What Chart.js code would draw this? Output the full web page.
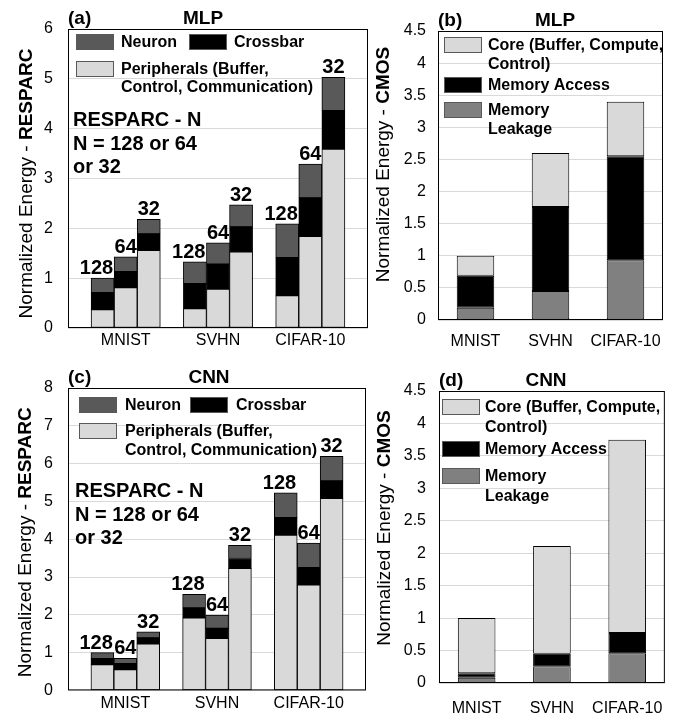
<!DOCTYPE html>
<html>
<head>
<title>RESPARC vs CMOS energy</title>
<style type="text/css">
	body{ margin:0; background:#fff; }
	#wrap{ position:relative; width:681px; height:715px; }
	#wrap canvas{ position:absolute; left:0; top:0; }
</style>
</head>
<body>
<script type="text/javascript" src="https://cdn.jsdelivr.net/npm/chart.js@4/dist/chart.umd.min.js"></script>

<div id="wrap">
	<canvas id="chartA" width="681" height="715"></canvas>
	<canvas id="chartB" width="681" height="715"></canvas>
	<canvas id="chartC" width="681" height="715"></canvas>
	<canvas id="chartD" width="681" height="715"></canvas>
</div>

<script type="text/javascript">
var FONT = "'Liberation Sans', Arial, Helvetica, sans-serif";

var datasetNames = ['MNIST', 'SVHN', 'CIFAR-10'];
var sizeLabels = ['128', '64', '32'];

// RESPARC, per dataset: N = 128, 64, 32 (segment heights, stacked)
var mlpPeripherals = [0.37, 0.81, 1.56, 0.39, 0.78, 1.53, 0.65, 1.84, 3.59];
var mlpCrossbar    = [0.34, 0.32, 0.33, 0.50, 0.50, 0.50, 0.76, 0.77, 0.77];
var mlpNeuron      = [0.29, 0.30, 0.29, 0.44, 0.43, 0.44, 0.68, 0.68, 0.67];

var cnnPeripherals = [0.68, 0.55, 1.23, 1.92, 1.38, 3.23, 4.11, 2.79, 5.08];
var cnnCrossbar    = [0.16, 0.16, 0.16, 0.26, 0.26, 0.26, 0.46, 0.46, 0.46];
var cnnNeuron      = [0.16, 0.14, 0.16, 0.36, 0.35, 0.35, 0.66, 0.65, 0.65];

// CMOS baseline, per dataset
var mlpLeakage = [0.19, 0.45, 0.93];
var mlpAccess  = [0.50, 1.31, 1.62];
var mlpCore    = [0.31, 0.84, 0.85];

var cnnLeakage = [0.08, 0.26, 0.46];
var cnnAccess  = [0.07, 0.19, 0.31];
var cnnCore    = [0.85, 1.66, 2.98];

var respMlpMax = 6, respCnnMax = 8, cmosMax = 4.5;

var NEURON = '#595959', CROSSBAR = '#000000', PERIPH = '#d9d9d9';
var LEAK = '#808080', ACCESS = '#000000', CORE = '#d9d9d9';

// 13 slots: gap, 3 bars, gap, 3 bars, gap, 3 bars, gap
function slots(vals){
	var out = [null];
	for (var g = 0; g < 3; g++){
		for (var k = 0; k < 3; k++) out.push(vals[g*3 + k]);
		out.push(null);
	}
	return out;
}
var slotCats = slots(['', datasetNames[0], '', '', datasetNames[1], '', '', datasetNames[2], '']).map(function(v){ return v || ''; });
var slotSizes = slots(sizeLabels.concat(sizeLabels, sizeLabels)).map(function(v){ return v || ''; });

function ds(label, data, color){
	return { label: label, data: data, backgroundColor: color, borderColor: '#000', borderWidth: 1, borderSkipped: false };
}

function makeDecor(p){
	return {
		id: 'decor',
		afterDatasetsDraw: function(chart){
			var ctx = chart.ctx, a = chart.chartArea;
			ctx.save();
			ctx.strokeStyle = '#000';
			ctx.lineWidth = 1;
			ctx.strokeRect(a.left + 0.5, a.top + 0.5, a.right - a.left - 1, a.bottom - a.top - 1);

			ctx.fillStyle = '#000';
			ctx.textBaseline = 'alphabetic';
			ctx.font = 'bold 19px ' + FONT;
			ctx.textAlign = 'left';
			ctx.fillText(p.tag, a.left, a.top - 5);
			ctx.textAlign = 'center';
			ctx.fillText(p.title, a.left + p.titleX, a.top - 5);

			// y title, regular + bold part
			ctx.save();
			ctx.translate(a.left + p.yTitleX, (a.top + a.bottom)/2 + p.yTitleDy);
			ctx.rotate(-Math.PI/2);
			ctx.textBaseline = 'middle';
			ctx.textAlign = 'left';
			ctx.font = '19px ' + FONT;
			var w1 = ctx.measureText(p.yTitle[0]).width;
			ctx.font = 'bold 19px ' + FONT;
			var w2 = ctx.measureText(p.yTitle[1]).width;
			var x0 = -(w1 + w2)/2;
			ctx.font = '19px ' + FONT;
			ctx.fillText(p.yTitle[0], x0, 0);
			ctx.font = 'bold 19px ' + FONT;
			ctx.fillText(p.yTitle[1], x0 + w1, 0);
			ctx.restore();

			// legend inside the plot
			ctx.textAlign = 'left';
			ctx.font = 'bold 16px ' + FONT;
			p.legend.forEach(function(it){
				var x = a.left + it.x, y = a.top + it.y;
				ctx.fillStyle = it.color;
				ctx.fillRect(x, y, 38, 16);
				ctx.strokeStyle = '#595959';
				ctx.strokeRect(x + 0.5, y + 0.5, 37, 15);
				ctx.fillStyle = '#000';
				it.lines.forEach(function(t, i){
					ctx.fillText(t, x + p.legendDx, y + 13 + i*p.legendGap);
				});
			});

			if (p.note){
				ctx.font = 'bold 20px ' + FONT;
				p.note.forEach(function(t, i){
					ctx.fillText(t, a.left + p.noteX, a.top + p.noteY + i*23.5);
				});
			}

			if (p.barLabels){
				var meta = chart.getDatasetMeta(chart.data.datasets.length - 1);
				ctx.font = 'bold 20px ' + FONT;
				meta.data.forEach(function(bar, i){
					var t = p.barLabels[i];
					if (!t) return;
					var w = ctx.measureText(t).width;
					if (w > bar.width){
						ctx.textAlign = 'right';
						ctx.fillText(t, bar.x + bar.width/2 - 1, bar.y - 4);
					} else {
						ctx.textAlign = 'center';
						ctx.fillText(t, bar.x, bar.y - 4);
					}
				});
			}
			ctx.restore();
		}
	};
}

function makePanel(id, p){
	var a = p.area;
	var xAxisH = 715 - a[3];
	return new Chart(document.getElementById(id), {
		type: 'bar',
		data: { labels: p.labels, datasets: p.datasets },
		options: {
			responsive: false,
			animation: false,
			barPercentage: p.barPct,
			categoryPercentage: 1,
			layout: { padding: { left: a[0] - 44, top: a[1], right: 681 - a[2], bottom: 0 } },
			plugins: { legend: { display: false }, tooltip: { enabled: false } },
			scales: {
				x: {
					stacked: true,
					grid: { display: false, drawTicks: false },
					border: { display: false },
					ticks: { autoSkip: false, maxRotation: 0, padding: p.xPad, color: '#000', font: { family: FONT, size: 16 } },
					afterFit: function(s){ s.height = xAxisH; }
				},
				y: {
					stacked: true,
					min: 0,
					max: p.max,
					grid: { color: '#d9d9d9', drawTicks: false },
					border: { display: false },
					ticks: { stepSize: p.step, padding: p.yPad, color: '#000', font: { family: FONT, size: 16 },
						callback: function(v){ return String(v); } },
					afterFit: function(s){ s.width = 44; }
				}
			}
		},
		plugins: [makeDecor(p)]
	});
}

var respNote = ['RESPARC - N', 'N = 128 or 64', 'or 32'];

makePanel('chartA', {
	area: [68, 29, 368, 328], max: respMlpMax, step: 1, barPct: 1, xPad: 3, yPad: 15,
	labels: slotCats,
	datasets: [ds('Peripherals', slots(mlpPeripherals), PERIPH), ds('Crossbar', slots(mlpCrossbar), CROSSBAR), ds('Neuron', slots(mlpNeuron), NEURON)],
	tag: '(a)', title: 'MLP', titleX: 135,
	yTitle: ['Normalized Energy - ', 'RESPARC'], yTitleX: -41, yTitleDy: 5,
	legend: [
		{ color: NEURON, x: 8, y: 5, lines: ['Neuron'] },
		{ color: CROSSBAR, x: 121, y: 5, lines: ['Crossbar'] },
		{ color: PERIPH, x: 8, y: 32, lines: ['Peripherals (Buffer,', 'Control, Communication)'] }
	],
	legendDx: 45, legendGap: 18,
	note: respNote, noteX: 5, noteY: 97,
	barLabels: slotSizes
});

makePanel('chartB', {
	area: [438, 31, 663, 320], max: cmosMax, step: 0.5, barPct: 0.5, xPad: 12, yPad: 12,
	labels: datasetNames,
	datasets: [ds('Memory Leakage', mlpLeakage, LEAK), ds('Memory Access', mlpAccess, ACCESS), ds('Core', mlpCore, CORE)],
	tag: '(b)', title: 'MLP', titleX: 117,
	yTitle: ['Normalized Energy - ', 'CMOS'], yTitleX: -54, yTitleDy: -11,
	legend: [
		{ color: CORE, x: 6, y: 6, lines: ['Core (Buffer, Compute,', 'Control)'] },
		{ color: ACCESS, x: 6, y: 46, lines: ['Memory Access'] },
		{ color: LEAK, x: 6, y: 71, lines: ['Memory', 'Leakage'] }
	],
	legendDx: 44, legendGap: 19
});

makePanel('chartC', {
	area: [68, 388, 366, 694], max: respCnnMax, step: 1, barPct: 1, xPad: 4, yPad: 15,
	labels: slotCats,
	datasets: [ds('Peripherals', slots(cnnPeripherals), PERIPH), ds('Crossbar', slots(cnnCrossbar), CROSSBAR), ds('Neuron', slots(cnnNeuron), NEURON)],
	tag: '(c)', title: 'CNN', titleX: 141,
	yTitle: ['Normalized Energy - ', 'RESPARC'], yTitleX: -42, yTitleDy: 3,
	legend: [
		{ color: NEURON, x: 11, y: 9, lines: ['Neuron'] },
		{ color: CROSSBAR, x: 122, y: 9, lines: ['Crossbar'] },
		{ color: PERIPH, x: 11, y: 35, lines: ['Peripherals (Buffer,', 'Control, Communication)'] }
	],
	legendDx: 46, legendGap: 18.5,
	note: respNote, noteX: 7, noteY: 109,
	barLabels: slotSizes
});

makePanel('chartD', {
	area: [439, 391, 665, 683], max: cmosMax, step: 0.5, barPct: 0.5, xPad: 16, yPad: 13,
	labels: datasetNames,
	datasets: [ds('Memory Leakage', cnnLeakage, LEAK), ds('Memory Access', cnnAccess, ACCESS), ds('Core', cnnCore, CORE)],
	tag: '(d)', title: 'CNN', titleX: 107,
	yTitle: ['Normalized Energy - ', 'CMOS'], yTitleX: -54, yTitleDy: -9,
	legend: [
		{ color: CORE, x: 3, y: 8, lines: ['Core (Buffer, Compute,', 'Control)'] },
		{ color: ACCESS, x: 3, y: 50, lines: ['Memory Access'] },
		{ color: LEAK, x: 3, y: 77, lines: ['Memory', 'Leakage'] }
	],
	legendDx: 43, legendGap: 19.5
});
</script>
</body>
</html>
